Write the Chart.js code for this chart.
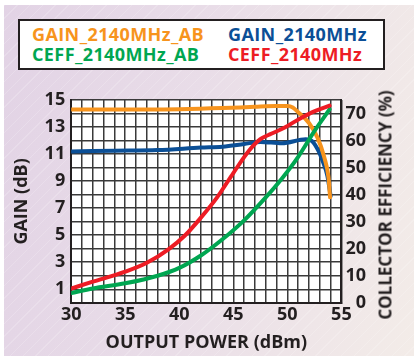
<!DOCTYPE html>
<html>
<head>
<meta charset="utf-8">
<script src="https://cdn.jsdelivr.net/npm/chart.js@4.4.1/dist/chart.umd.min.js"></script>
<style>
  html, body { margin: 0; padding: 0; }
  body {
    width: 414px; height: 356px; overflow: hidden; position: relative;
    background: #fff;
  }
  #bg {
    position: absolute; left: 4px; top: 5px; right: 0; bottom: 0;
    background:
      repeating-linear-gradient(135deg, rgba(255,255,255,0.18) 0 1px, rgba(255,255,255,0) 1px 9px),
      linear-gradient(100deg, #e2d3e5 0%, #e9dde8 45%, #f3ece8 100%);
  }
  #wrap { position: absolute; left: 0; top: 0; width: 414px; height: 356px; }
  #legend {
    position: absolute; left: 18px; top: 19px; width: 363px; height: 47px;
    background: #fff; border: 2px solid #231f20;
    font-family: "Open Sans", sans-serif; font-weight: 700; font-size: 18px;
    letter-spacing: 0.4px;
  }
  #legend span { position: absolute; white-space: nowrap; line-height: 20px; }
  #rightTitle {
    position: absolute; left: 385px; top: 205px;
    transform: translate(-50%, -50%) rotate(-90deg);
    white-space: nowrap; color: #231f20;
    font-family: "Open Sans", sans-serif; font-weight: 700; font-size: 17px;
  }
</style>
</head>
<body>
<div id="bg"></div>
<div id="wrap"><canvas id="myChart" width="414" height="356"></canvas></div>
<div id="legend">
  <span style="left:12px; top:3px; color:#f7941d">GAIN_2140MHz_AB</span>
  <span style="left:208px; top:3px; color:#0b4f96">GAIN_2140MHz</span>
  <span style="left:12px; top:23px; color:#00a651">CEFF_2140MHz_AB</span>
  <span style="left:208px; top:23px; color:#ed1c24">CEFF_2140MHz</span>
</div>
<div id="rightTitle">COLLECTOR EFFICIENCY (%)</div>
<script>
const gainAbPower = [30, 35, 40, 44, 47, 49, 50, 50.5, 51, 52, 52.8, 53.4, 53.8, 53.95];
const gainAbValues = [14.3, 14.3, 14.32, 14.4, 14.5, 14.55, 14.55, 14.45, 14.1, 13.3, 12.2, 10.8, 9.3, 7.8];

const gainPower = [30, 34, 38, 42, 44, 46, 47.5, 49.5, 51.7, 52.3, 52.9, 53.3, 53.7, 54.0];
const gainValues = [11.2, 11.25, 11.3, 11.48, 11.55, 11.75, 11.9, 11.8, 12.1, 11.95, 11.2, 10.4, 9.4, 7.9];

const ceffPower = [30, 32, 35, 37, 39, 40.5, 42, 43.5, 45, 46.5, 47.5, 48.5, 49.8, 51.1, 52.6, 53.9];
const ceffValues = [5.3, 7.8, 11.5, 14.8, 19.8, 24.8, 31.5, 39, 48, 56.5, 60.5, 62.5, 64.9, 68, 71, 72.9];

const ceffAbPower = [30, 32, 35, 38, 40, 42, 44, 46, 48, 49.5, 51, 52.5, 53.9];
const ceffAbValues = [3.6, 5.3, 7.2, 10, 12.9, 17.5, 23.5, 30.5, 39, 46, 54, 63.5, 71.5];

const xTicks = [30, 35, 40, 45, 50, 55];
const gainTicks = [1, 3, 5, 7, 9, 11, 13, 15];
const effTicks = [0, 10, 20, 30, 40, 50, 60, 70];

function toPoints(xs, ys) {
  return xs.map((x, i) => ({ x: x, y: ys[i] }));
}

const plotBackground = {
  id: "plotBackground",
  beforeDraw(chart) {
    const { ctx, chartArea } = chart;
    ctx.save();
    ctx.fillStyle = "#ffffff";
    ctx.fillRect(chartArea.left, chartArea.top, chartArea.right - chartArea.left, chartArea.bottom - chartArea.top);
    ctx.restore();
  },
};

const tickFont = { family: "Open Sans", weight: "bold", size: 18 };
const titleFont = { family: "Open Sans", weight: "bold", size: 18 };
const textColor = "#231f20";
const gridColor = "#3a3a3a";

const myChart = new Chart(document.getElementById("myChart").getContext("2d"), {
  type: "line",
  data: {
    datasets: [
      {
        label: "CEFF_2140MHz",
        data: toPoints(ceffPower, ceffValues),
        borderColor: "#ed1c24",
        yAxisID: "y1",
      },
      {
        label: "CEFF_2140MHz_AB",
        data: toPoints(ceffAbPower, ceffAbValues),
        borderColor: "#00a651",
        yAxisID: "y1",
      },
      {
        label: "GAIN_2140MHz_AB",
        data: toPoints(gainAbPower, gainAbValues),
        borderColor: "#f7941d",
        yAxisID: "y",
      },
      {
        label: "GAIN_2140MHz",
        data: toPoints(gainPower, gainValues),
        borderColor: "#0b4f96",
        yAxisID: "y",
      },
    ],
  },
  options: {
    responsive: false,
    animation: false,
    layout: {
      padding: { top: 100, left: 11, right: 44, bottom: 2 },
    },
    elements: {
      point: { radius: 0 },
      line: { borderWidth: 4, cubicInterpolationMode: "monotone", borderCapStyle: "round" },
    },
    plugins: {
      legend: { display: false },
      tooltip: { enabled: false },
    },
    scales: {
      x: {
        type: "linear",
        min: 30,
        max: 55,
        afterBuildTicks(axis) {
          const ticks = [];
          for (let v = 30; v <= 55; v++) ticks.push({ value: v });
          axis.ticks = ticks;
        },
        ticks: {
          autoSkip: false,
          maxRotation: 0,
          color: textColor,
          font: tickFont,
          padding: 1,
          callback: (v) => (xTicks.includes(v) ? String(v) : ""),
        },
        grid: { color: gridColor, lineWidth: 1.5, drawTicks: false },
        border: { display: true, color: "#231f20", width: 2 },
        title: {
          display: true,
          text: "OUTPUT POWER (dBm)",
          color: textColor,
          font: titleFont,
          padding: { top: 6, bottom: 0 },
        },
      },
      y: {
        type: "linear",
        position: "left",
        min: 0,
        max: 15,
        afterBuildTicks(axis) {
          const ticks = [];
          for (let v = 0; v <= 15; v++) ticks.push({ value: v });
          axis.ticks = ticks;
        },
        ticks: {
          autoSkip: false,
          color: textColor,
          font: tickFont,
          padding: 6,
          callback: (v) => (gainTicks.includes(v) ? String(v) : ""),
        },
        grid: { color: gridColor, lineWidth: 1.5, drawTicks: false },
        border: { display: true, color: "#231f20", width: 2 },
        title: {
          display: true,
          text: "GAIN (dB)",
          color: textColor,
          font: titleFont,
          padding: { top: 0, bottom: 6 },
        },
      },
      y1: {
        type: "linear",
        position: "right",
        min: 0,
        max: 75,
        afterBuildTicks(axis) {
          const ticks = [];
          for (let v = 0; v <= 75; v += 5) ticks.push({ value: v });
          axis.ticks = ticks;
        },
        ticks: {
          autoSkip: false,
          color: textColor,
          font: tickFont,
          padding: 4,
          callback: (v) => (effTicks.includes(v) ? (v < 10 ? "\u2007" + v : String(v)) : ""),
        },
        grid: { display: false, drawTicks: false },
        border: { display: true, color: "#231f20", width: 2 },
        title: { display: false },
      },
    },
  },
  plugins: [plotBackground],
});
</script>
</body>
</html>
